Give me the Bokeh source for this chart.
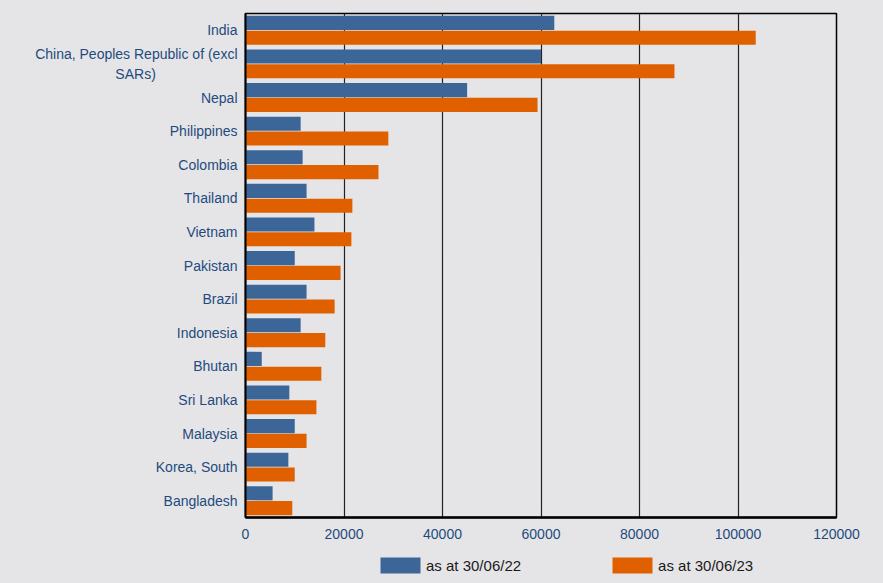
from bokeh.plotting import figure
from bokeh.layouts import column
from bokeh.models import ColumnDataSource, FixedTicker, Range1d, Legend, LegendItem
from bokeh.embed import file_html
from bokeh.resources import INLINE

NB = "\u00a0"
categories = ["India", "China, Peoples Republic of (excl\nSARs)" + NB * 21, "Nepal", "Philippines",
              "Colombia", "Thailand", "Vietnam", "Pakistan", "Brazil", "Indonesia",
              "Bhutan", "Sri Lanka", "Malaysia", "Korea, South", "Bangladesh"]
values_22 = [62700, 60000, 45000, 11200, 11600, 12400, 14000, 10000, 12400, 11200,
             3300, 8900, 10000, 8700, 5500]
values_23 = [103600, 87100, 59300, 29000, 27000, 21700, 21500, 19300, 18100, 16200,
             15400, 14400, 12400, 10000, 9500]
x_ticks = [0, 20000, 40000, 60000, 80000, 100000, 120000]
series_labels = ["as at 30/06/22", "as at 30/06/23"]

BG = "#e5e5e8"
BLUE = "#3b6697"
ORANGE = "#e06000"
LABEL = "#1f4b7c"
FONT = "Liberation Sans"

n = len(categories)
centers = [i + 0.5 for i in range(n)]
bh = 0.42
off = 0.22
src = ColumnDataSource(dict(
    y22=[c - off for c in centers], y23=[c + off for c in centers],
    v22=values_22, v23=values_23))

p = figure(width=883, height=545, output_backend="svg", toolbar_location=None,
           x_range=Range1d(0, 120000), y_range=Range1d(n, 0),
           min_border_left=245, min_border_right=47, min_border_top=13,
           min_border_bottom=28)
p.background_fill_color = BG
p.border_fill_color = BG
p.outline_line_color = "black"
p.outline_line_width = 1.5

p.hbar(y="y22", right="v22", left=0, height=bh, source=src, color=BLUE, line_color=None)
p.hbar(y="y23", right="v23", left=0, height=bh, source=src, color=ORANGE, line_color=None)

p.xaxis.ticker = FixedTicker(ticks=x_ticks)
p.xaxis.major_label_overrides = {t: str(t) for t in x_ticks}
p.xaxis.major_tick_line_color = None
p.xaxis.minor_tick_line_color = None
p.xaxis.axis_line_color = "black"
p.xaxis.axis_line_width = 2.5
p.xaxis.major_label_text_color = LABEL
p.xaxis.major_label_text_font = FONT
p.xaxis.major_label_text_font_size = "14px"
p.xaxis.major_label_standoff = 5

p.yaxis.ticker = FixedTicker(ticks=centers)
p.yaxis.major_label_overrides = {c: lab for c, lab in zip(centers, categories)}
p.yaxis.major_tick_line_color = None
p.yaxis.minor_tick_line_color = None
p.yaxis.axis_line_color = "black"
p.yaxis.axis_line_width = 2
p.yaxis.major_label_text_color = LABEL
p.yaxis.major_label_text_font = FONT
p.yaxis.major_label_text_font_size = "14px"
p.yaxis.major_label_standoff = 2

p.xgrid.grid_line_color = "#222222"
p.xgrid.grid_line_width = 1.2
p.ygrid.grid_line_color = None

# legend strip below the chart (its renderers sit outside the visible range;
# they exist only to supply the legend swatches)
lg = figure(width=883, height=38, output_backend="svg", toolbar_location=None,
            x_range=Range1d(0, 1), y_range=Range1d(0, 1),
            x_axis_location=None, y_axis_location=None,
            min_border=0, outline_line_color=None)
lg.background_fill_alpha = 0
lg.border_fill_color = BG
lg.grid.grid_line_color = None
swatch = ColumnDataSource(dict(y=[-5], right=[0]))
l22 = lg.hbar(y="y", right="right", left=0, height=0.5, source=swatch, color=BLUE, line_color=None)
l23 = lg.hbar(y="y", right="right", left=0, height=0.5, source=swatch, color=ORANGE, line_color=None)
legend = Legend(items=[LegendItem(label=series_labels[0], renderers=[l22]),
                       LegendItem(label=series_labels[1], renderers=[l23])],
                location=(130, 8), orientation="horizontal",
                glyph_width=50, glyph_height=20, label_height=20, label_standoff=1, spacing=86,
                background_fill_alpha=0, border_line_color=None,
                label_text_font=FONT, label_text_font_size="15px",
                label_text_color="#1a1a1a", padding=0, margin=0)
lg.add_layout(legend, "center")

layout = column(p, lg, spacing=0, styles={"background-color": BG})
open("out.html", "w").write(file_html(layout, INLINE))
